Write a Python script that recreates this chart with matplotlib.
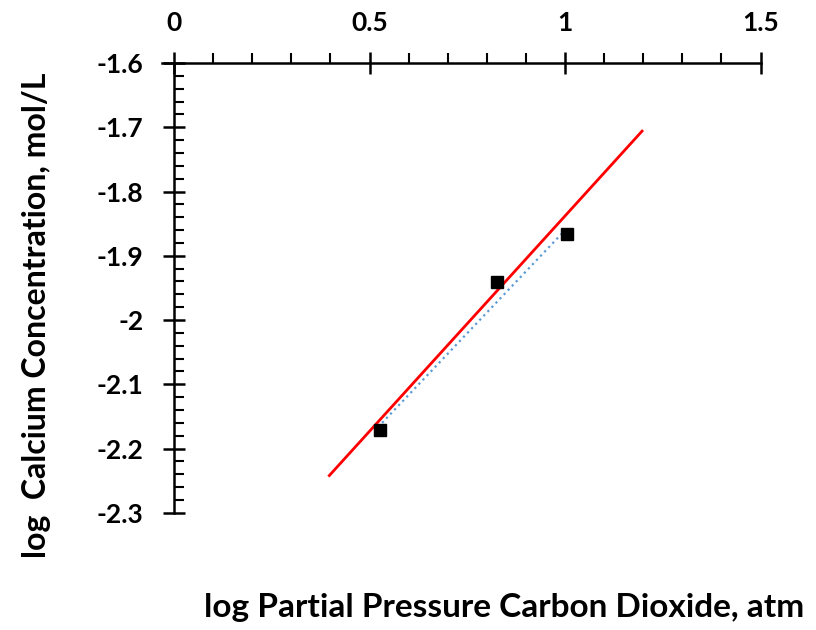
import matplotlib
matplotlib.use('Agg')
from matplotlib import pyplot as plt
from matplotlib.ticker import MultipleLocator

# measured points
log_pco2 = [0.526, 0.826, 1.005]
log_ca = [-2.171, -1.941, -1.866]

# dotted blue trend over the data range
dotted_x = [0.532, 1.005]
dotted_y = [-2.160, -1.857]

# red trend line end points
trend_x = [0.397, 1.197]
trend_y = [-2.242, -1.706]

x_ticks = [0, 0.5, 1, 1.5]
x_labels = ['0', '0.5', '1', '1.5']
y_ticks = [-1.6, -1.7, -1.8, -1.9, -2.0, -2.1, -2.2, -2.3]
y_labels = ['-1.6', '-1.7', '-1.8', '-1.9', '-2', '-2.1', '-2.2', '-2.3']

plt.rcParams['font.family'] = ['Lato', 'DejaVu Sans']
plt.rcParams['font.weight'] = 'bold'

fig = plt.figure(figsize=(8.16, 6.3), dpi=100)
ax = fig.add_axes([0.199, 0.186, 0.733, 0.714])

ax.plot(dotted_x, dotted_y, linestyle=':', color='#5b9bd5', linewidth=1.6, zorder=2)
ax.plot(trend_x, trend_y, color='#ff0000', linewidth=2, zorder=3)
ax.plot(log_pco2, log_ca, linestyle='none', marker='s', markersize=8.5,
        color='black', zorder=4)

ax.set_xlim(-0.03, 1.5)
ax.set_ylim(-2.3, -1.6)

ax.spines['right'].set_visible(False)
ax.spines['bottom'].set_visible(False)
ax.spines['left'].set_position(('data', 0))
for side in ['top', 'left']:
    ax.spines[side].set_linewidth(1.8)

ax.xaxis.tick_top()
ax.set_xticks(x_ticks)
ax.set_xticklabels(x_labels)
ax.set_yticks(y_ticks)
ax.set_yticklabels(y_labels)
ax.xaxis.set_minor_locator(MultipleLocator(0.1))
ax.yaxis.set_minor_locator(MultipleLocator(0.02))

ax.tick_params(axis='x', which='major', direction='inout', length=16, width=1.8,
               labelsize=19, pad=12)
ax.tick_params(axis='x', which='minor', direction='out', length=7, width=1.5)
ax.tick_params(axis='y', which='major', direction='inout', length=16, width=1.8,
               labelsize=19, pad=14)
ax.tick_params(axis='y', which='minor', direction='in', length=7, width=1.5)

fig.text(0.618, 0.035, 'log Partial Pressure Carbon Dioxide, atm',
         ha='center', va='center', fontsize=24, fontweight='bold')
fig.text(0.045, 0.5, 'log  Calcium Concentration, mol/L', rotation=90,
         ha='center', va='center', fontsize=23, fontweight='bold')

fig.savefig('out.png', dpi=100)
